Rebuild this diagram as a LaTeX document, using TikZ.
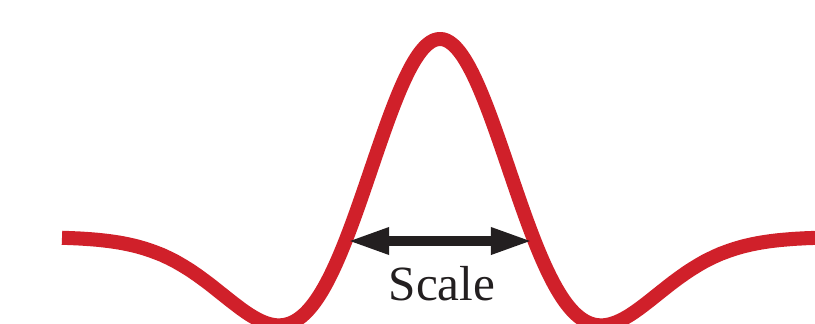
\documentclass[tikz,border=0pt]{standalone}
\usepackage{fontspec}
\setmainfont{Liberation Serif}
\usetikzlibrary{arrows.meta}
\definecolor{wavered}{HTML}{D0202A}
\definecolor{arrowblack}{HTML}{231F20}
\tikzset{
  wave/.style={draw=wavered, line width=12pt, line cap=butt, line join=round},
  scalearrow/.style={draw=arrowblack, line width=8.5pt,
    {Triangle[length=36pt,width=21pt]}-{Triangle[length=36pt,width=21pt]}},
  label/.style={font=\fontsize{42}{50}\selectfont, text=arrowblack, inner sep=0pt, anchor=base}
}
\begin{document}
\begin{tikzpicture}[x=0.03cm,y=-0.03cm]
\useasboundingbox (0,0) rectangle (815,323);
\clip (0,0) rectangle (815,323);
\draw[wave] plot[domain=62:815, samples=240, smooth]
  (\x, {237 - 198*(1-((\x-440)/93)^2)*exp(-0.5*((\x-440)/93)^2)});
\coordinate (L) at (347,241);
\coordinate (R) at (533,241);
\draw[scalearrow] (L) -- (R);
\node[label] (s) at (442,300) {Scale};
\end{tikzpicture}
\end{document}
